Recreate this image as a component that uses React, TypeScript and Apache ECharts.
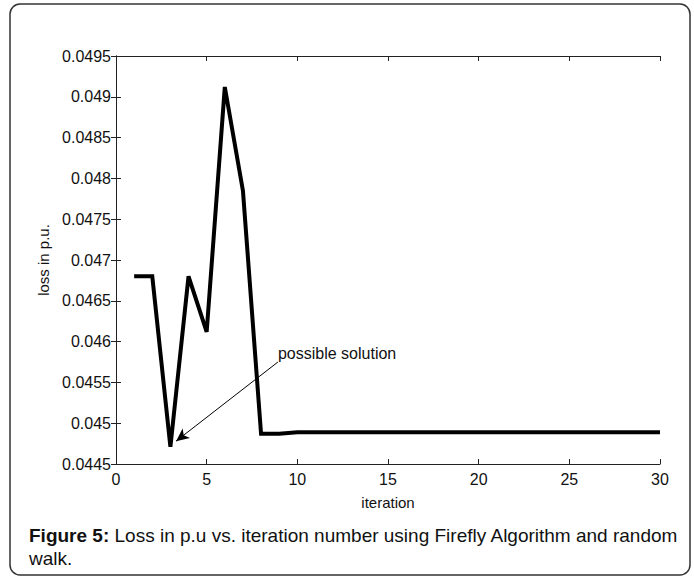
import React, { useEffect, useRef } from "react";
import * as echarts from "echarts";

const iterations = [1, 2, 3, 4, 5, 6, 7, 8, 9, 10, 11, 12, 13, 14, 15, 16, 17, 18, 19, 20, 21, 22, 23, 24, 25, 26, 27, 28, 29, 30];
const loss = [
  0.0468, 0.0468, 0.04471, 0.0468, 0.04612, 0.04912, 0.04785, 0.04487, 0.04487, 0.04489,
  0.04489, 0.04489, 0.04489, 0.04489, 0.04489, 0.04489, 0.04489, 0.04489, 0.04489, 0.04489,
  0.04489, 0.04489, 0.04489, 0.04489, 0.04489, 0.04489, 0.04489, 0.04489, 0.04489, 0.04489,
];
const xTicks = { min: 0, max: 30, interval: 5 };
const yTicks = { min: 0.0445, max: 0.0495, interval: 0.0005 };
const annotationText = "possible solution";
const annotationTextAt = [8.93, 0.04585];
const arrowFrom = [8.93, 0.04575];
const arrowTo = [3.31, 0.04478];
const xLabel = "iteration";
const yLabel = "loss in p.u.";
const captionBold = "Figure 5:";
const captionRest = " Loss in p.u vs. iteration number using Firefly Algorithm and random\nwalk.";

const FONT = "'Liberation Sans', Arial, Helvetica, sans-serif";

export default function App() {
  const ref = useRef<HTMLDivElement>(null);
  useEffect(() => {
    if (!ref.current) return;
    const chart = echarts.init(ref.current, undefined, { renderer: "svg" });
    const fmt = (v: number) => parseFloat(v.toFixed(4)).toString();
    const axisCommon = {
      axisLine: { show: true, lineStyle: { color: "#222", width: 1 } },
      axisTick: { show: true, inside: true, length: 5, lineStyle: { color: "#222", width: 1 } },
      splitLine: { show: false },
    };
    chart.setOption({
      animation: false,
      backgroundColor: "#fff",
      grid: { left: 116, top: 56, width: 544, height: 408 },
      xAxis: [
        {
          type: "value",
          ...xTicks,
          ...axisCommon,
          position: "bottom",
          axisLabel: { color: "#111", fontFamily: FONT, fontSize: 16, margin: 7 },
          name: xLabel,
          nameLocation: "middle",
          nameGap: 31,
          nameTextStyle: { color: "#111", fontFamily: FONT, fontSize: 15 },
        },
        {
          type: "value",
          ...xTicks,
          ...axisCommon,
          position: "top",
          axisLabel: { show: false },
        },
      ],
      yAxis: [
        {
          type: "value",
          ...yTicks,
          ...axisCommon,
          position: "left",
          axisLabel: { color: "#111", fontFamily: FONT, fontSize: 16, margin: 5, formatter: fmt },
          name: yLabel,
          nameLocation: "middle",
          nameGap: 60,
          nameRotate: 90,
          nameTextStyle: { color: "#111", fontFamily: FONT, fontSize: 15 },
        },
        {
          type: "value",
          ...yTicks,
          ...axisCommon,
          position: "right",
          axisLabel: { show: false },
        },
      ],
      series: [
        {
          type: "line",
          data: iterations.map((x, i) => [x, loss[i]]),
          showSymbol: false,
          symbol: "none",
          lineStyle: { color: "#000", width: 4, join: "miter" },
          markLine: {
            silent: true,
            symbol: ["none", "arrow"],
            symbolSize: [9, 13],
            label: { show: false },
            lineStyle: { color: "#000", width: 1, type: "solid" },
            data: [[{ coord: arrowFrom }, { coord: arrowTo }]],
          },
          markPoint: {
            silent: true,
            symbol: "circle",
            symbolSize: 0,
            label: {
              show: true,
              position: "right",
              distance: 0,
              formatter: annotationText,
              color: "#111",
              fontFamily: FONT,
              fontSize: 16,
            },
            data: [{ coord: annotationTextAt }],
          },
        },
      ],
      graphic: [
        {
          type: "rect",
          shape: { x: 10, y: 4, width: 680, height: 571, r: 10 },
          style: { fill: "none", stroke: "#333", lineWidth: 1.5 },
          silent: true,
        },
        {
          type: "text",
          x: 29,
          y: 524,
          style: {
            text: "{b|" + captionBold + "}" + captionRest,
            fill: "#111",
            fontFamily: FONT,
            fontSize: 19,
            lineHeight: 23,
            rich: {
              b: { fontWeight: "bold", fontFamily: FONT, fontSize: 19, lineHeight: 23, fill: "#111" },
            },
          },
        },
      ],
    });
    return () => chart.dispose();
  }, []);
  return (
    <div
      ref={ref}
      style={{ position: "fixed", left: 0, top: 0, width: 694, height: 578, background: "#fff" }}
    />
  );
}
